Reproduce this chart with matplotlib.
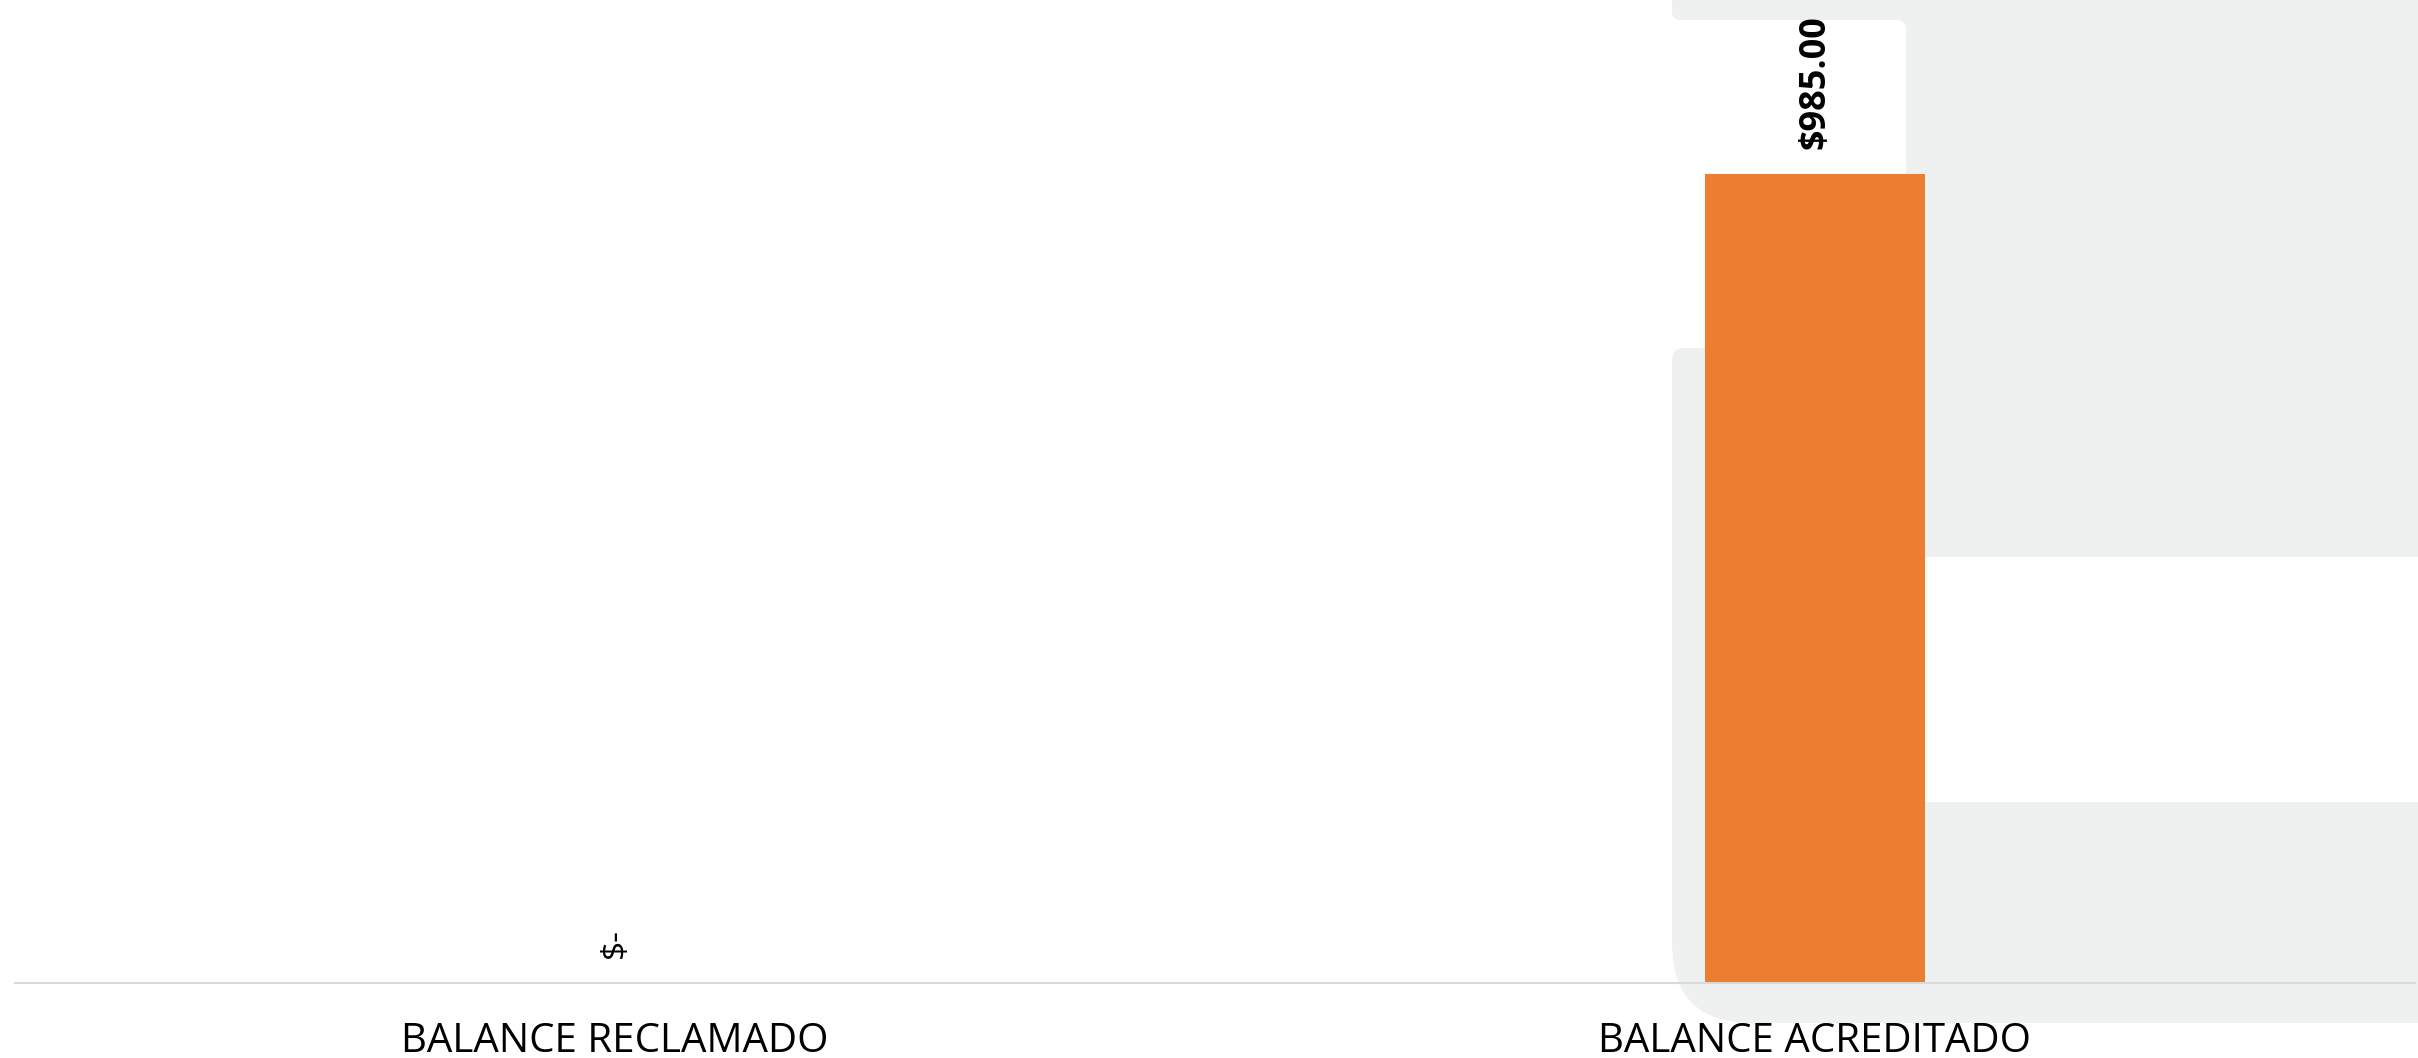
import matplotlib
matplotlib.use('Agg')
import matplotlib.pyplot as plt
from matplotlib.patches import FancyBboxPatch, Rectangle
from matplotlib.transforms import IdentityTransform

plt.rcParams['font.family'] = ['Open Sans', 'DejaVu Sans']

categories = ['BALANCE RECLAMADO', 'BALANCE ACREDITADO']
values = [0, 985.00]
value_labels = ['$-', '$985.00']

W, H = 2418, 1058
fig = plt.figure(figsize=(W / 100, H / 100), dpi=100)
fig.patch.set_facecolor('white')

gray = '#eff1f0'


def px_box(x0, y0, x1, y1, color, radius=0, z=-2):
    # pixel coords measured from top-left of the picture
    if radius > 0:
        p = FancyBboxPatch((x0 + radius, H - y1 + radius), x1 - x0 - 2 * radius, y1 - y0 - 2 * radius,
                           boxstyle=f'round,pad={radius}', facecolor=color, edgecolor='none',
                           transform=IdentityTransform(), zorder=z)
    else:
        p = Rectangle((x0, H - y1), x1 - x0, y1 - y0, facecolor=color, edgecolor='none',
                      transform=IdentityTransform(), zorder=z)
    fig.patches.append(p)


# slide decoration behind the chart
px_box(1672, -40, 2500, 20, gray, radius=8)
px_box(1890, -40, 2500, 557, gray)
px_box(1660, 20, 1906, 360, 'white', radius=10, z=-1.8)
px_box(1672, 348, 2500, 720, gray, radius=12, z=-1.5)
px_box(1672, 600, 2500, 1023, gray, radius=80, z=-1.5)
px_box(1850, 557, 2500, 802, 'white', z=-1)

ax = fig.add_axes([15 / W, (H - 983) / H, 2400 / W, 983 / H])
ax.set_facecolor('none')

x = range(len(categories))
bars = ax.bar(x, values, width=0.184, color='#ed7d31', zorder=2)
ax.set_xlim(-0.5, 1.5)
ax.set_ylim(0, 1197)

for rect, lab, v in zip(bars, value_labels, values):
    ax.annotate(lab, (rect.get_x() + rect.get_width() / 2, v), xytext=(0, 18),
                textcoords='offset points', rotation=90, ha='center', va='bottom',
                fontsize=26 if v else 24, fontweight='bold' if v else 'normal', color='black')

ax.set_xticks(list(x))
ax.set_xticklabels(categories, fontsize=29, color='black')
ax.tick_params(axis='x', length=0, pad=28)
ax.set_yticks([])
for s in ['top', 'left', 'right']:
    ax.spines[s].set_visible(False)
ax.spines['bottom'].set_color('#d9d9d9')
ax.spines['bottom'].set_linewidth(1.5)

fig.savefig('out.png', dpi=100)
